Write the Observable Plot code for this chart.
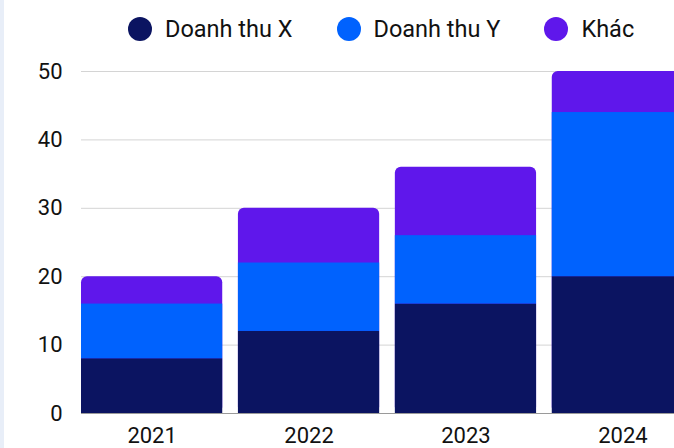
<!DOCTYPE html>
<html>
<head>
<meta charset="utf-8">
<script src="https://cdn.jsdelivr.net/npm/d3@7"></script>
<script src="https://cdn.jsdelivr.net/npm/@observablehq/plot@0.6"></script>
<style>
  html, body { margin: 0; padding: 0; background: #fff; overflow: hidden; }
  body { width: 674px; height: 448px; position: relative; font-family: Roboto, sans-serif; }
  #strip { position: absolute; left: 0; top: 0; width: 4px; height: 448px; background: #e8eef8; }
  #legend { position: absolute; left: 128px; top: 17px; height: 24px; display: flex; align-items: center; font-size: 23.5px; color: #111; white-space: nowrap; }
  .item { display: flex; align-items: center; margin-right: 44px; }
  .dot { width: 24px; height: 24px; border-radius: 50%; margin-right: 13px; flex: none; }
  #chart { position: absolute; left: 0; top: 55px; width: 674px; overflow: hidden; }
  #chart svg { max-width: none; }
</style>
</head>
<body>
<div id="strip"></div>
<div id="legend"></div>
<div id="chart"></div>
<script>
const years = ["2021", "2022", "2023", "2024"];
const seriesNames = ["Doanh thu X", "Doanh thu Y", "Khác"];
const seriesColors = ["#0b1461", "#0062fe", "#5f17eb"];
const doanhThuX = [8, 12, 16, 20];
const doanhThuY = [8, 10, 10, 24];
const khac = [4, 8, 10, 6];
const yTicks = [0, 10, 20, 30, 40, 50];

// legend
const legend = document.getElementById("legend");
seriesNames.forEach((name, i) => {
  const item = document.createElement("div");
  item.className = "item";
  const dot = document.createElement("span");
  dot.className = "dot";
  dot.style.background = seriesColors[i];
  const label = document.createElement("span");
  label.textContent = name;
  item.appendChild(dot);
  item.appendChild(label);
  legend.appendChild(item);
});

const totals = years.map((year, i) => ({year, total: doanhThuX[i] + doanhThuY[i] + khac[i]}));
const lower = [];
years.forEach((year, i) => {
  lower.push({year, series: seriesNames[0], value: doanhThuX[i]});
  lower.push({year, series: seriesNames[1], value: doanhThuY[i]});
});

const chart = Plot.plot({
  width: 674,
  height: 393,
  marginTop: 16,
  marginBottom: 35,
  marginLeft: 81,
  marginRight: 0,
  style: {fontFamily: "Roboto, sans-serif", fontSize: "22px", color: "#111", overflow: "hidden"},
  x: {domain: years, range: [81, 693], paddingInner: 0.1, paddingOuter: 0, round: false, label: null},
  y: {domain: [0, 50], label: null},
  color: {domain: seriesNames, range: seriesColors},
  marks: [
    Plot.gridY(yTicks, {stroke: "#d4d4d4", strokeOpacity: 1, strokeWidth: 1}),
    Plot.barY(totals, {x: "year", y: "total", fill: () => "Khác", rx: 6}),
    Plot.barY(lower, {x: "year", y: "value", fill: "series", order: seriesNames}),
    Plot.ruleY([0], {stroke: "#9a9a9a", strokeWidth: 1}),
    Plot.axisY(yTicks, {tickSize: 0, tickPadding: 19, fontSize: 22, fill: "#111", label: null}),
    Plot.axisX({tickSize: 0, tickPadding: 14, fontSize: 22, fill: "#111", label: null})
  ]
});
document.getElementById("chart").appendChild(chart);
</script>
</body>
</html>
